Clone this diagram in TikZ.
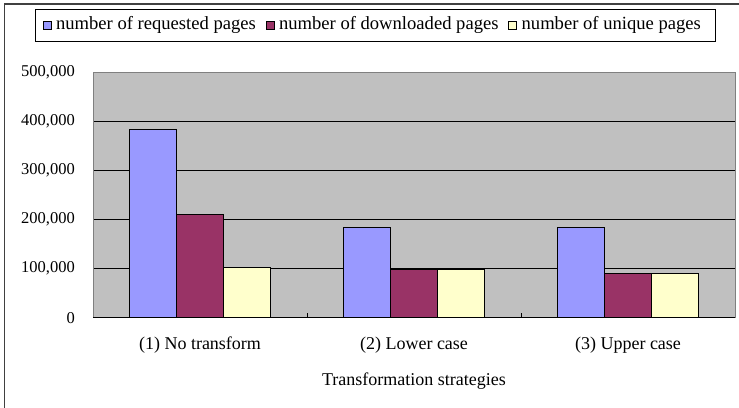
\documentclass[tikz,border=0pt]{standalone}
\usepackage{fontspec}
\setmainfont{Liberation Serif}
\usetikzlibrary{positioning}
\definecolor{reqblue}{HTML}{9999FF}
\definecolor{dlpurple}{HTML}{993366}
\definecolor{uniqyellow}{HTML}{FFFFCC}
\definecolor{plotgrey}{HTML}{C0C0C0}
\tikzset{
  bar/.style={draw=black,line width=0.9pt},
  legkey/.style={draw=black,line width=0.7pt,minimum size=8pt,inner sep=0pt},
  legtext/.style={inner sep=0pt,font=\fontsize{18.6}{21}\selectfont},
  ylab/.style={anchor=east,inner sep=0pt,font=\fontsize{16.5}{18}\selectfont},
}
\begin{document}
\begin{tikzpicture}[x=1pt,y=-1pt,font=\fontsize{18}{21}\selectfont]
\useasboundingbox (0,0) rectangle (739,407);
% outer frame, cut off at right and bottom
\draw[line width=1.4pt,black!75] (4.5,412) -- (4.5,4) -- (745,4);
% legend
\draw[line width=0.8pt] (35.5,9) rectangle (715,41);
\node[legkey,fill=reqblue] (kreq) at (47,25) {};
\node[legtext,right=4.5pt of kreq] (treq) {number of requested pages};
\node[legkey,fill=dlpurple,right=9.5pt of treq] (kdl) {};
\node[legtext,right=4.5pt of kdl] (tdl) {number of downloaded pages};
\node[legkey,fill=uniqyellow,right=9.5pt of tdl] (kuniq) {};
\node[legtext,right=4.5pt of kuniq] (tuniq) {number of unique pages};
% plot area
\begin{scope}[shift={(93,317.7)},x=214pt,y=0.49pt]
\fill[plotgrey] (0,0) rectangle (3,500);
\foreach \v in {100,200,300,400}
  \draw[line width=0.8pt] (0,\v) -- (3,\v);
\draw[line width=0.8pt,gray] (0,0) -- (0,500) -- (3,500) -- (3,0);
\draw[line width=1pt] (0,0) -- (3,0);
\foreach \c in {1,2}
  \draw[line width=0.8pt] (\c,0) -- (\c,10);
\foreach \v/\t in {0/0,100/{100,000},200/{200,000},300/{300,000},400/{400,000},500/{500,000}}
  \node[ylab,xshift=-18pt] (y\v) at (0,\v) {\t};
% bars
\foreach \c/\a/\b/\d in {0/384/210/102,1/185/99/99,2/185/91/91} {
  \draw[bar,fill=reqblue] (\c+0.1685,0) rectangle ++(0.221,\a);
  \draw[bar,fill=dlpurple] (\c+0.3895,0) rectangle ++(0.221,\b);
  \draw[bar,fill=uniqyellow] (\c+0.6105,0) rectangle ++(0.221,\d);
}
\node[yshift=-27pt] (cat1) at (0.5,0) {(1) No transform};
\node[yshift=-27pt] (cat2) at (1.5,0) {(2) Lower case};
\node[yshift=-27pt] (cat3) at (2.5,0) {(3) Upper case};
\node[yshift=-63pt] (xtitle) at (1.5,0) {Transformation strategies};
\end{scope}
\end{tikzpicture}
\end{document}
